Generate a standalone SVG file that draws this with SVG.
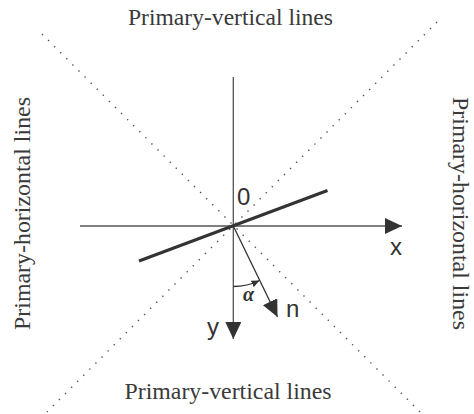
<svg xmlns="http://www.w3.org/2000/svg" width="474" height="414" viewBox="0 0 474 414">
<style>
.serif{font-family:"Liberation Serif","Times New Roman",serif;font-size:24px;fill:#3a3a3a}
.sans{font-family:"Liberation Sans",Arial,sans-serif;font-size:24px;fill:#333}
.axis{stroke:#555;stroke-width:1.3;fill:none}
.dot{stroke:#555;stroke-width:1.4;stroke-dasharray:1.4 7.2;fill:none}
.thick{stroke:#333;stroke-width:3;fill:none}
.thin{stroke:#333;stroke-width:1.3;fill:none}
</style>
<defs>
<marker id="ah" markerUnits="userSpaceOnUse" markerWidth="18" markerHeight="16" refX="17" refY="8" orient="auto" viewBox="0 0 18 16">
<path d="M0,0 L17,8 L0,16 z" fill="#333"/>
</marker>
<marker id="sah" markerUnits="userSpaceOnUse" markerWidth="9" markerHeight="8" refX="8" refY="4" orient="auto" viewBox="0 0 9 8">
<path d="M0,0.5 L8,4 L0,7.5 z" fill="#333"/>
</marker>
</defs>
<rect width="474" height="414" fill="#fff"/>
<g id="diagonals">
<line class="dot" x1="42" y1="34" x2="420" y2="412"/>
<line class="dot" x1="437" y1="22" x2="47" y2="412"/>
</g>
<g id="connectors">
<line class="axis" x1="80" y1="226" x2="402" y2="226" marker-end="url(#ah)"/>
<line class="axis" x1="233.3" y1="77" x2="233.3" y2="339" marker-end="url(#ah)"/>
<line class="thick" x1="139" y1="261" x2="327.5" y2="190.5"/>
<line class="thin" x1="233.3" y1="226" x2="277.5" y2="317" marker-end="url(#ah)"/>
<path class="thin" d="M233.3,286.5 A60.5,60.5 0 0 0 259.5,280.5" marker-end="url(#sah)"/>
</g>
<g id="labels">
<text id="top-label" class="serif" x="230.5" y="25" text-anchor="middle" textLength="205" lengthAdjust="spacingAndGlyphs">Primary-vertical lines</text>
<text id="bottom-label" class="serif" x="228" y="399" text-anchor="middle" textLength="207" lengthAdjust="spacingAndGlyphs">Primary-vertical lines</text>
<text id="left-label" class="serif" transform="translate(30,213.5) rotate(-90)" text-anchor="middle" textLength="233" lengthAdjust="spacingAndGlyphs">Primary-horizontal lines</text>
<text id="right-label" class="serif" transform="translate(453,213.5) rotate(90)" text-anchor="middle" textLength="233" lengthAdjust="spacingAndGlyphs">Primary-horizontal lines</text>
<text id="origin-label" class="sans" x="237" y="205">0</text>
<text id="x-label" class="sans" x="390" y="255">x</text>
<text id="y-label" class="sans" x="207" y="335">y</text>
<text id="n-label" class="sans" x="286" y="317">n</text>
<text id="alpha-label" x="243" y="301" style="font-family:'Liberation Serif','Times New Roman',serif;font-size:20px;font-style:italic;font-weight:bold;fill:#333">α</text>
</g>
</svg>
